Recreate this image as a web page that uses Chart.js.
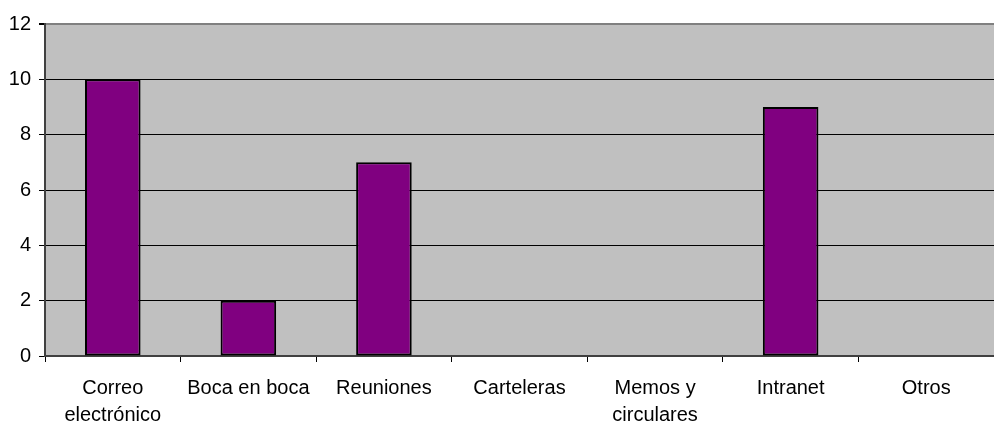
<!DOCTYPE html>
<html>
<head>
<meta charset="utf-8">
<script src="https://cdn.jsdelivr.net/npm/chart.js@4/dist/chart.umd.min.js"></script>
<style>
html,body{margin:0;padding:0;background:#fff;}
#wrap{width:994px;height:424px;}
</style>
</head>
<body>
<div id="wrap"><canvas id="c" width="994" height="424"></canvas></div>
<script>
const categories = [["Correo","electrónico"],"Boca en boca","Reuniones","Carteleras",["Memos y","circulares"],"Intranet","Otros"];
const values = [10, 2, 7, 0, 0, 9, 0];
const yTicks = [0, 2, 4, 6, 8, 10, 12];

const bgPlugin = {
  id: 'plotBg',
  beforeDraw(chart) {
    const a = chart.chartArea, ctx = chart.ctx;
    ctx.save();
    ctx.fillStyle = '#C0C0C0';
    ctx.fillRect(a.left, a.top, a.right - a.left, a.bottom - a.top);
    ctx.restore();
  }
};

new Chart(document.getElementById('c'), {
  type: 'bar',
  data: {
    labels: categories,
    datasets: [{
      data: values,
      backgroundColor: '#800080',
      borderColor: '#000000',
      borderWidth: 2,
      borderSkipped: false,
      categoryPercentage: 0.82,
      barPercentage: 0.5
    }]
  },
  options: {
    responsive: false,
    animation: false,
    devicePixelRatio: 1,
    layout: { padding: { top: 24, right: 0, left: 0, bottom: 0 } },
    plugins: { legend: { display: false }, tooltip: { enabled: false } },
    scales: {
      x: {
        afterFit(s) { s.height = 68; },
        grid: { offset: true, drawOnChartArea: false, drawTicks: true, tickLength: 6, color: '#000', lineWidth: 1 },
        border: { display: true, color: '#404040', width: 2 },
        ticks: { color: '#000', font: { family: 'Liberation Sans, Arial, sans-serif', size: 20, lineHeight: 1.35 }, padding: 13, maxRotation: 0, autoSkip: false },
      },
      y: {
        min: 0, max: 12,
        afterFit(s) { s.width = 45; },
        afterBuildTicks(s) { s.ticks = yTicks.map(v => ({ value: v })); },
        grid: {
          color: (ctx) => ctx.tick && ctx.tick.value === 12 ? '#808080' : '#000',
          lineWidth: (ctx) => ctx.tick && ctx.tick.value === 12 ? 2 : 1,
          tickLength: 6, drawTicks: true,
          tickColor: '#000'
        },
        border: { display: true, color: '#404040', width: 2 },
        ticks: { color: '#000', font: { family: 'Liberation Sans, Arial, sans-serif', size: 20 }, padding: 8 }
      }
    }
  },
  plugins: [bgPlugin]
});
</script>
</body>
</html>
